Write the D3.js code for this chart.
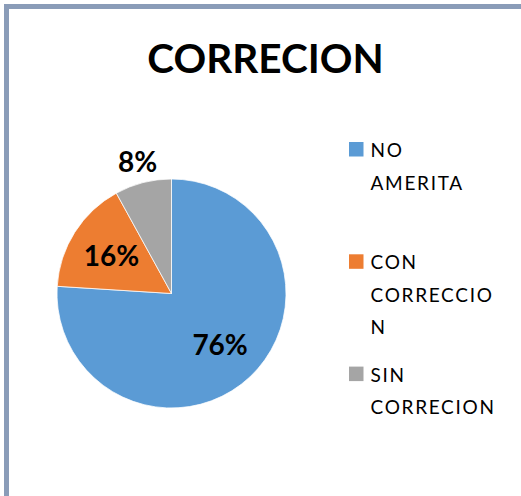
<!DOCTYPE html>
<html lang="es">
  <head>
    <meta charset="utf-8">
    <title>CORRECION</title>
    <script src="https://cdn.jsdelivr.net/npm/d3@7"></script>
    <style>
      body { margin: 0; background: #fff; }
      svg { display: block; }
      text { font-family: Lato, "Open Sans", sans-serif; fill: #000; }
    </style>
  </head>
  <body>
    <div id="chart"></div>
    <script>
      const width = 521;
      const height = 496;

      // data
      const categories = ['NO AMERITA', 'CON CORRECCION', 'SIN CORRECION'];
      const values = [76, 16, 8];
      const valueLabels = ['76%', '16%', '8%'];
      // legend text wrapped the same way as the original
      const legendLines = [['NO', 'AMERITA'], ['CON', 'CORRECCIO', 'N'], ['SIN', 'CORRECION']];
      const colors = ['#5b9bd5', '#ed7d31', '#a5a5a5'];

      const cx = 171.5, cy = 293.5, r = 114.5;

      const svg = d3.select('#chart')
        .append('svg')
        .attr('width', width)
        .attr('height', height);

      // frame, cut off on the right and bottom
      svg.append('rect')
        .attr('x', 6.5)
        .attr('y', 6.5)
        .attr('width', 700)
        .attr('height', 700)
        .attr('fill', 'none')
        .attr('stroke', '#8a9cb8')
        .attr('stroke-width', 5);

      svg.append('text')
        .attr('x', 265.5)
        .attr('y', 73)
        .attr('text-anchor', 'middle')
        .attr('font-size', 40.5)
        .attr('font-weight', 'bold')
        .text('CORRECION');

      const pie = d3.pie().sort(null).value(d => d);
      const arcs = pie(values);

      const arc = d3.arc().innerRadius(0).outerRadius(r);
      const labelArc = d3.arc().innerRadius(r * 0.62).outerRadius(r * 0.62);
      const outerLabelArc = d3.arc().innerRadius(r * 1.19).outerRadius(r * 1.19);

      const g = svg.append('g')
        .attr('transform', `translate(${cx},${cy})`);

      g.selectAll('path')
        .data(arcs)
        .enter()
        .append('path')
        .attr('d', arc)
        .attr('fill', (d, i) => colors[i])
        .attr('stroke', '#fff')
        .attr('stroke-width', 0.75);

      g.selectAll('text.lbl')
        .data(arcs)
        .enter()
        .append('text')
        .attr('class', 'lbl')
        .attr('transform', d => {
          const p = (d.data < 10 ? outerLabelArc : labelArc).centroid(d);
          return `translate(${p})`;
        })
        .attr('text-anchor', 'middle')
        .attr('dy', '0.36em')
        .attr('font-size', 28)
        .attr('font-weight', 'bold')
        .text((d, i) => valueLabels[i]);

      //legend
      const legend = svg.append('g')
        .attr('transform', 'translate(349,142)');

      const items = legend.selectAll('g')
        .data(categories)
        .enter()
        .append('g')
        .attr('transform', (d, i) => `translate(0,${i * 112.3})`);

      items.append('rect')
        .attr('width', 14.5)
        .attr('height', 14.5)
        .attr('fill', (d, i) => colors[i]);

      items.append('text')
        .attr('x', 21.5)
        .attr('font-size', 19)
        .attr('letter-spacing', 1.7)
        .selectAll('tspan')
        .data((d, i) => legendLines[i])
        .enter()
        .append('tspan')
        .attr('x', 21.5)
        .attr('y', (d, j) => 15 + j * 32.5)
        .text(d => d);
    </script>
  </body>
</html>
